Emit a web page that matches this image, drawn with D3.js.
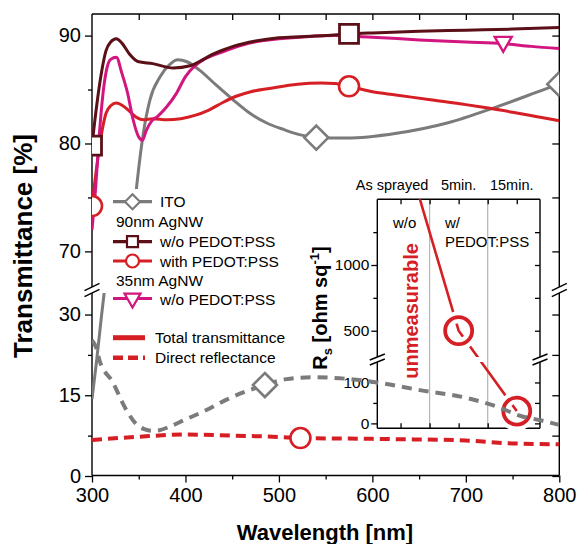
<!DOCTYPE html>
<html><head><meta charset="utf-8">
<script src="https://cdn.jsdelivr.net/npm/d3@7/dist/d3.min.js"></script>
<style>body{margin:0;background:#fff} svg{display:block;font-family:"Liberation Sans",Arial,sans-serif}</style>
</head><body><svg id="c" width="579" height="544"></svg>
<script>
// ---------- data ----------
const itoWl = [300,305,310,315,320,330,340,348,355,362,373,383,392,401,415,433,451,469,487,505,523,540,573,626,680,733,787,800];
const itoT  = [14.3,21.5,29.5,37,44,57,69,76.2,81.0,84.05,86.2,87.3,87.75,87.6,86.8,85.4,84.05,82.8,81.9,81.3,80.8,80.55,80.5,80.95,81.9,83.4,85.1,85.5];
const itoMarks = [540,800];

const itoRWl = [300,305,308,322,336,347,356,364,372,382,400,423,444,466,485,508,537,573,608,651,701,733,758,781,800];
const itoR   = [25.2,23.6,21.5,17.5,12.5,9.7,8.7,8.4,8.5,9.1,10.5,12.3,14.2,15.8,16.9,18.0,18.35,18.05,17.3,15.95,14.5,12.9,11.2,10.3,9.5];
const itoRMarks = [485];

const w90Wl = [300,305,310,315,320,326,332,340,349,365,387,405,415,430,451,475,500,523,550,575,600,650,700,750,800];
const w90T  = [79.8,83.5,86.5,88.6,89.4,89.7,89.3,88.3,87.6,87.4,87.0,87.2,87.6,88.3,89.0,89.5,89.8,89.9,90.0,90.15,90.25,90.4,90.5,90.6,90.75];
const w90Marks = [300,575];

const p90Wl = [300,305,310,315,320,326,333,340,348,355,365,380,395,410,425,440,455,470,490,520,545,560,575,600,625,662,700,715,750,775,800];
const p90T  = [74.2,77.8,80.8,82.8,83.5,83.75,83.5,83.0,82.4,82.2,82.3,82.2,82.3,82.6,83.1,83.8,84.4,84.8,85.1,85.5,85.6,85.55,85.3,84.8,84.5,84.05,83.6,83.4,82.9,82.5,82.1];
const p90Marks = [300,575];

const p90RWl = [300,350,400,450,500,523,572,644,700,750,800];
const p90R   = [6.7,7.3,7.7,7.5,7.25,7.05,6.95,6.8,6.6,6.05,5.9];
const p90RMarks = [523];

const w35Wl = [300,304,308,312,316,320,326,332,338,344,350,354,358,364,370,380,390,400,410,420,440,460,480,500,530,560,600,650,700,740,770,800];
const w35T  = [72,76,81,84.8,87,87.8,88.0,86.5,84.7,82.2,80.6,80.3,81.2,82.1,82.5,83.4,84.6,86.2,87.2,87.8,88.5,89.1,89.5,89.7,89.9,90.0,89.85,89.6,89.4,89.25,89.0,88.8];
const w35Marks = [740];

const xTicks = [300,400,500,600,700,800];
const yUpperTicks = [70,80,90];
const yLowerTicks = [0,15,30];

// inset: sheet resistance
const rsCats = ["As sprayed","5min.","15min."];
const rsPos  = [1,3,5];
const rsVals = [2000,500,30];   // as sprayed: unmeasurable (off scale)
const rsUpperTicks = [500,1000];
const rsLowerTicks = [0,100];

// ---------- colours ----------
const GREY="#7b7b7b", MAROON="#5b0f16", RED="#d61e25", MAG="#d3167f";

const svg = d3.select("#c");
const X0=92, X1=559.3, YT=14, YB=475.5;
const UB=287, LT=293;
const x  = d3.scaleLinear().domain([300,800]).range([X0,X1]);
const yU = d3.scaleLinear().domain([66.7,92]).range([UB,YT]);
const yL = d3.scaleLinear().domain([0,34]).range([476,LT]);

const defs = svg.append("defs");
function clip(id,x0,y0,w,h){defs.append("clipPath").attr("id",id).append("rect").attr("x",x0).attr("y",y0).attr("width",w).attr("height",h);}
clip("cu",X0,YT,X1-X0,UB-YT);
clip("cl",X0,LT,X1-X0,YB-LT);

function styleAxis(g,fs){
  g.attr("font-family",null).attr("font-size",fs);
  g.select(".domain").remove();
  g.selectAll("line").attr("stroke","#000").attr("stroke-width",1.3);
  g.selectAll("text").attr("fill","#000");
  return g;
}
const blank = () => "";
const fmt = d3.format("d");

// ---------- main axes ----------
styleAxis(svg.append("g").attr("transform",`translate(0,${YB})`).call(d3.axisBottom(x).tickValues(xTicks).tickSize(7).tickPadding(5).tickFormat(fmt)),20);
styleAxis(svg.append("g").attr("transform",`translate(0,${YB})`).call(d3.axisBottom(x).tickValues([350,450,550,650,750]).tickSize(4).tickFormat(blank)),20);
styleAxis(svg.append("g").attr("transform",`translate(0,${YT})`).call(d3.axisBottom(x).tickValues(d3.range(350,800,50)).tickSize(6).tickFormat(blank)),20);
styleAxis(svg.append("g").attr("transform",`translate(${X0},0)`).call(d3.axisLeft(yU).tickValues(yUpperTicks).tickSize(7).tickPadding(4).tickFormat(fmt)),20);
styleAxis(svg.append("g").attr("transform",`translate(${X0},0)`).call(d3.axisLeft(yU).tickValues([75,85]).tickSize(4).tickFormat(blank)),20);
styleAxis(svg.append("g").attr("transform",`translate(${X0},0)`).call(d3.axisLeft(yL).tickValues(yLowerTicks).tickSize(7).tickPadding(4).tickFormat(fmt)),20);
styleAxis(svg.append("g").attr("transform",`translate(${X0},0)`).call(d3.axisLeft(yL).tickValues([7.5,22.5]).tickSize(4).tickFormat(blank)),20);
styleAxis(svg.append("g").attr("transform",`translate(${X1},0)`).call(d3.axisLeft(yU).tickValues([70,75,80,85,90]).tickSize(7).tickFormat(blank)),20);
styleAxis(svg.append("g").attr("transform",`translate(${X1},0)`).call(d3.axisLeft(yL).tickValues([0,7.5,15,22.5,30]).tickSize(7).tickFormat(blank)),20);

// frame
const frame = svg.append("g").attr("stroke","#000").attr("stroke-width",1.4).attr("fill","none");
frame.append("line").attr("x1",X0).attr("x2",X1).attr("y1",YT).attr("y2",YT);
frame.append("line").attr("x1",X0).attr("x2",X1).attr("y1",YB).attr("y2",YB);
[X0,X1].forEach(xx=>{
  frame.append("line").attr("x1",xx).attr("x2",xx).attr("y1",YT).attr("y2",UB);
  frame.append("line").attr("x1",xx).attr("x2",xx).attr("y1",LT).attr("y2",YB);
  [UB,LT].forEach(yy=>frame.append("line").attr("x1",xx-7.5).attr("y1",yy+3.6).attr("x2",xx+7.5).attr("y2",yy-3.6));
});

// ---------- line helpers ----------
function series(wl,vals){return wl.map((w,i)=>({w,v:vals[i]}));}
function lineU(){return d3.line().x(d=>x(d.w)).y(d=>yU(d.v)).curve(d3.curveMonotoneX);}
function lineL(){return d3.line().x(d=>x(d.w)).y(d=>yL(d.v)).curve(d3.curveMonotoneX);}

const up = svg.append("g").attr("clip-path","url(#cu)");
const lo = svg.append("g").attr("clip-path","url(#cl)");

const sIto = series(itoWl,itoT), sW90=series(w90Wl,w90T), sP90=series(p90Wl,p90T), sW35=series(w35Wl,w35T);
const sItoR = series(itoRWl,itoR), sP90R = series(p90RWl,p90R);

up.append("path").datum(sIto).attr("d",lineU()).attr("fill","none").attr("stroke",GREY).attr("stroke-width",3);
up.append("path").datum(sP90).attr("d",lineU()).attr("fill","none").attr("stroke",RED).attr("stroke-width",3);
up.append("path").datum(sW35).attr("d",lineU()).attr("fill","none").attr("stroke",MAG).attr("stroke-width",3);
up.append("path").datum(sW90).attr("d",lineU()).attr("fill","none").attr("stroke",MAROON).attr("stroke-width",3);
lo.append("path").datum(sIto).attr("d",lineL()).attr("fill","none").attr("stroke",GREY).attr("stroke-width",3);

// ---------- markers ----------
const sym = {
  diamond: s=>`M0,${-s}L${s},0L0,${s}L${-s},0Z`,
  square: s=>`M${-s},${-s}H${s}V${s}H${-s}Z`,
  tri: s=>`M${-s},${-s*0.8}H${s}L0,${s*0.95}Z`
};
function markersOn(g,ser,marks,ys,shape,size,col,sw){
  const pts = marks.map(m=>ser.find(d=>d.w===m));
  if(shape==="circle"){
    g.selectAll(null).data(pts).enter().append("circle").attr("cx",d=>x(d.w)).attr("cy",d=>ys(d.v))
     .attr("r",size).attr("fill","#fff").attr("stroke",col).attr("stroke-width",sw);
  } else {
    g.selectAll(null).data(pts).enter().append("path").attr("transform",d=>`translate(${x(d.w)},${ys(d.v)})`)
     .attr("d",sym[shape](size)).attr("fill","#fff").attr("stroke",col).attr("stroke-width",sw);
  }
}
markersOn(up,sIto,itoMarks,yU,"diamond",12,GREY,2.6);
markersOn(up,sP90,p90Marks,yU,"circle",10,RED,2.6);
markersOn(up,sW90,w90Marks,yU,"square",9.5,MAROON,2.8);
markersOn(up,sW35,w35Marks,yU,"tri",8.5,MAG,2.4);

// ---------- legend ----------
const lg = svg.append("g");
lg.append("rect").attr("x",106).attr("y",189).attr("width",186).attr("height",178).attr("fill","#fff");
const LFS = 15.5;
function ltext(tx,ty,s){lg.append("text").attr("x",tx).attr("y",ty).attr("font-size",LFS).attr("fill","#000").text(s);}
function lline(yy,col,w,dash,x2){lg.append("line").attr("x1",113).attr("x2",x2||152).attr("y1",yy).attr("y2",yy).attr("stroke",col).attr("stroke-width",w).attr("stroke-dasharray",dash||null);}
lline(201.7,GREY,3.2); lg.append("path").attr("transform","translate(132.5,201.7)").attr("d",sym.diamond(7.5)).attr("fill","#fff").attr("stroke",GREY).attr("stroke-width",2.2);
ltext(160,207.3,"ITO");
ltext(116,227.2,"90nm AgNW");
lline(241.7,MAROON,3.2); lg.append("path").attr("transform","translate(132.5,241.7)").attr("d",sym.square(5.5)).attr("fill","#fff").attr("stroke",MAROON).attr("stroke-width",2.2);
ltext(160,247.2,"w/o PEDOT:PSS");
lline(261,RED,3.2); lg.append("circle").attr("cx",132.5).attr("cy",261).attr("r",6.5).attr("fill","#fff").attr("stroke",RED).attr("stroke-width",2.2);
ltext(160,266.5,"with PEDOT:PSS");
ltext(116,285.5,"35nm AgNW");
lline(298.5,MAG,3.2); lg.append("path").attr("transform","translate(132.5,300)").attr("d",sym.tri(8)).attr("fill","#fff").attr("stroke",MAG).attr("stroke-width",2.2);
ltext(160,304.5,"w/o PEDOT:PSS");
lline(337.7,RED,5,null,145);
ltext(155,343.2,"Total transmittance");
lline(357.7,RED,4.5,"10,5",145);
ltext(155,363.2,"Direct reflectance");

// ---------- inset ----------
const IX0=377.3, IX1=540, IYT=199.3, IYB=428.3, IUB=357, ILT=362;
const xi  = d3.scaleLinear().domain([0.2,5.8]).range([IX0,IX1]);
const yiU = d3.scaleLinear().domain([300,1500]).range([IUB,IYT]);
const yiL = d3.scaleLinear().domain([-12,150]).range([IYB,ILT]);
clip("ciu",IX0,IYT,IX1-IX0,IUB-IYT);
clip("cil",IX0,ILT,IX1-IX0,IYB-ILT);

const ins = svg.append("g");
ins.append("rect").attr("x",IX0).attr("y",IYT).attr("width",IX1-IX0).attr("height",IYB-IYT).attr("fill","#fff");
ins.selectAll(null).data([2,4]).enter().append("line").attr("x1",d=>xi(d)).attr("x2",d=>xi(d)).attr("y1",IYT).attr("y2",IYB)
  .attr("stroke","#b5b5b5").attr("stroke-width",1.2);
styleAxis(ins.append("g").attr("transform",`translate(${IX0},0)`).call(d3.axisLeft(yiU).tickValues(rsUpperTicks).tickSize(6).tickPadding(2).tickFormat(fmt)),15.5);
styleAxis(ins.append("g").attr("transform",`translate(${IX0},0)`).call(d3.axisLeft(yiU).tickValues([750,1250]).tickSize(4).tickFormat(blank)),15.5);
styleAxis(ins.append("g").attr("transform",`translate(${IX0},0)`).call(d3.axisLeft(yiL).tickValues(rsLowerTicks).tickSize(6).tickPadding(2).tickFormat(fmt)),15.5);
styleAxis(ins.append("g").attr("transform",`translate(${IX0},0)`).call(d3.axisLeft(yiL).tickValues([50]).tickSize(4).tickFormat(blank)),15.5);
styleAxis(ins.append("g").attr("transform",`translate(${IX1},0)`).call(d3.axisRight(yiU).tickValues([500,750,1000,1250]).tickSize(-5).tickFormat(blank)),15.5);
styleAxis(ins.append("g").attr("transform",`translate(${IX1},0)`).call(d3.axisRight(yiL).tickValues([0,50,100]).tickSize(-5).tickFormat(blank)),15.5);
styleAxis(ins.append("g").attr("transform",`translate(0,${IYT})`).call(d3.axisBottom(xi).tickValues([1,2,3,4,5]).tickSize(5).tickFormat(blank)),15.5);
styleAxis(ins.append("g").attr("transform",`translate(0,${IYB})`).call(d3.axisTop(xi).tickValues([1,2,3,4,5]).tickSize(5).tickFormat(blank)),15.5);
const ifr = ins.append("g").attr("stroke","#000").attr("stroke-width",1.4);
ifr.append("line").attr("x1",IX0).attr("x2",IX1).attr("y1",IYT).attr("y2",IYT);
ifr.append("line").attr("x1",IX0).attr("x2",IX1).attr("y1",IYB).attr("y2",IYB);
[IX0,IX1].forEach(xx=>{
  ifr.append("line").attr("x1",xx).attr("x2",xx).attr("y1",IYT).attr("y2",IUB);
  ifr.append("line").attr("x1",xx).attr("x2",xx).attr("y1",ILT).attr("y2",IYB);
  [IUB,ILT].forEach(yy=>ifr.append("line").attr("x1",xx-7.5).attr("y1",yy+3).attr("x2",xx+7.5).attr("y2",yy-3));
});
const catDx = [-8.5,0,-5];
ins.selectAll(null).data(rsCats).enter().append("text").attr("x",(d,i)=>xi(rsPos[i])+catDx[i]).attr("y",190)
  .attr("text-anchor","middle").attr("font-size",14.5).text(d=>d);
ins.append("text").attr("x",393).attr("y",227.5).attr("font-size",15).text("w/o");
ins.append("text").attr("x",445).attr("y",227.5).attr("font-size",15).text("w/");
ins.append("text").attr("x",445).attr("y",246.5).attr("font-size",15).text("PEDOT:PSS");
const rsPix = rsPos.map((p,i)=>[xi(p), rsVals[i]>=300 ? yiU(rsVals[i]) : yiL(rsVals[i])]);
["ciu","cil"].forEach(c=>{
  ins.append("path").attr("clip-path",`url(#${c})`).attr("d",d3.line()(rsPix)).attr("fill","none").attr("stroke",RED).attr("stroke-width",2.6);
});
const circ = rsPix.slice(1);
ins.selectAll(null).data(circ).enter().append("circle").attr("cx",d=>d[0]).attr("cy",d=>d[1]).attr("r",13.5)
  .attr("fill","none").attr("stroke","#fff").attr("stroke-width",12);
ins.selectAll(null).data(circ).enter().append("circle").attr("cx",d=>d[0]).attr("cy",d=>d[1]).attr("r",13.5)
  .attr("fill","none").attr("stroke",RED).attr("stroke-width",3.8);
ins.append("text").attr("transform","translate(417.5,311) rotate(-90)").attr("text-anchor","middle")
  .attr("font-size",20).attr("font-weight","bold").attr("fill",RED).text("unmeasurable");
const rl = ins.append("text").attr("transform","translate(327,308) rotate(-90)").attr("text-anchor","middle")
  .attr("font-size",20).attr("font-weight","bold").attr("fill","#000");
rl.append("tspan").text("R");
rl.append("tspan").attr("font-size",13).attr("dy",5).text("s");
rl.append("tspan").attr("dy",-5).text(" [ohm sq");
rl.append("tspan").attr("font-size",13).attr("dy",-8).text("-1");
rl.append("tspan").attr("dy",8).text("]");

// ---------- dashed reflectance lines (on top) ----------
const lo2 = svg.append("g").attr("clip-path","url(#cl)");
lo2.append("path").datum(sItoR).attr("d",lineL()).attr("fill","none").attr("stroke",GREY).attr("stroke-width",4).attr("stroke-dasharray","10,7");
lo2.append("path").datum(sP90R).attr("d",lineL()).attr("fill","none").attr("stroke",RED).attr("stroke-width",4).attr("stroke-dasharray","10,6");
markersOn(lo2,sItoR,itoRMarks,yL,"diamond",12,GREY,2.6);
markersOn(lo2,sP90R,p90RMarks,yL,"circle",10,RED,2.6);

// ---------- titles ----------
svg.append("text").attr("x",325).attr("y",540).attr("text-anchor","middle").attr("font-size",22).attr("font-weight","bold").text("Wavelength [nm]");
svg.append("text").attr("transform","translate(32,246) rotate(-90)").attr("text-anchor","middle").attr("font-size",26).attr("font-weight","bold").text("Transmittance [%]");
</script></body></html>
